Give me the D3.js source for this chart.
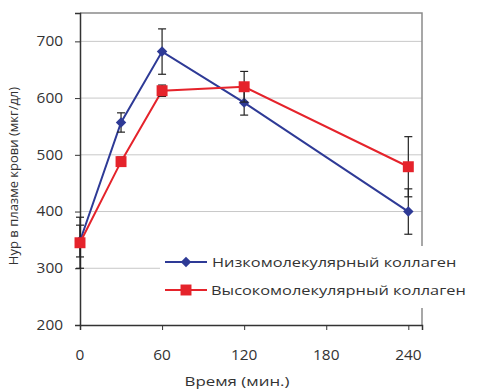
<!DOCTYPE html>
<html><head><meta charset="utf-8">
<script src="https://cdn.jsdelivr.net/npm/d3@7"></script>
<style>body{margin:0;background:#fff}text{font-family:"Open Sans",Arial,sans-serif}</style>
</head><body><svg id="c" width="477" height="389"></svg>
<script>
const times = [0, 30, 60, 120, 240];
const lowMW = [348, 557, 682, 592, 400];
const lowErr = [28, 17, 40, 22, 40];
const highMW = [345, 488, 613, 620, 479];
const highErr = [45, 8, 10, 27, 53];
const xTicks = [0, 60, 120, 180, 240];
const yTicks = [200, 300, 400, 500, 600, 700];
const seriesNames = ["Низкомолекулярный коллаген", "Высокомолекулярный коллаген"];
const colors = ["#2e3a96", "#e5232b"];

const svg = d3.select("#c");
const L = 80, R = 422, T = 13, B = 325;
const x = d3.scaleLinear().domain([0, 250]).range([L, R]);
const y = d3.scaleLinear().domain([200, 750]).range([B, T]);

function sText(px, py, str, size, sx, anchor) {
  return svg.append("text").attr("transform", `translate(${px},${py}) scale(${sx},1)`)
    .attr("text-anchor", anchor || "start").attr("dy", "0.35em")
    .attr("font-size", size).attr("fill", "#333").text(str);
}

// gridlines
svg.append("g").selectAll("line").data(yTicks.filter(v => v > 200)).join("line")
  .attr("x1", L).attr("x2", R).attr("y1", d => y(d)).attr("y2", d => y(d))
  .attr("stroke", "#c8c8c8").attr("stroke-width", 1);

// frame top/right
svg.append("path").attr("d", `M${L},${T}H${R}V${B}`).attr("fill", "none").attr("stroke", "#8a8a8a").attr("stroke-width", 1.5);

// axes
const yAxis = svg.append("g").attr("transform", `translate(${L},0)`)
  .call(d3.axisLeft(y).tickValues(yTicks).tickSize(5).tickFormat(""));
const xAxis = svg.append("g").attr("transform", `translate(0,${B})`)
  .call(d3.axisBottom(x).tickValues(xTicks).tickSize(5).tickFormat(""));
[yAxis, xAxis].forEach(a => {
  a.select(".domain").attr("stroke", "#333").attr("stroke-width", 1.5);
  a.selectAll(".tick line").attr("stroke", "#333");
});
yTicks.forEach(v => sText(63, y(v), String(v), 14, 1.1, "end"));
xTicks.forEach(v => sText(x(v), 355, String(v), 14, 1.1, "middle"));

const series = [
  {vals: lowMW, err: lowErr, color: colors[0], shape: d3.symbolDiamond2, size: 70},
  {vals: highMW, err: highErr, color: colors[1], shape: d3.symbolSquare, size: 120}
];
const line = d3.line().x((d, i) => x(times[i])).y(d => y(d));

series.forEach(s => {
  const g = svg.append("g");
  g.append("path").attr("d", line(s.vals)).attr("fill", "none").attr("stroke", s.color).attr("stroke-width", 2);
  const eb = g.selectAll("g.eb").data(s.vals).join("g");
  eb.append("line").attr("x1", (d, i) => x(times[i])).attr("x2", (d, i) => x(times[i]))
    .attr("y1", (d, i) => y(d - s.err[i])).attr("y2", (d, i) => y(d + s.err[i]))
    .attr("stroke", "#222").attr("stroke-width", 1.2);
  [-1, 1].forEach(sg => {
    eb.append("line").attr("x1", (d, i) => x(times[i]) - 4).attr("x2", (d, i) => x(times[i]) + 4)
      .attr("y1", (d, i) => y(d + sg * s.err[i])).attr("y2", (d, i) => y(d + sg * s.err[i]))
      .attr("stroke", "#222").attr("stroke-width", 1.2);
  });
  g.selectAll("path.m").data(s.vals).join("path").attr("class", "m")
    .attr("d", d3.symbol().type(s.shape).size(s.size))
    .attr("transform", (d, i) => `translate(${x(times[i])},${y(d)})`)
    .attr("fill", s.color);
});

// legend
const lg = svg.append("g");
lg.append("rect").attr("x", 160).attr("y", 246).attr("width", 317).attr("height", 62).attr("fill", "#fff");
series.forEach((s, i) => {
  const yy = 262 + i * 28;
  lg.append("line").attr("x1", 165).attr("x2", 207).attr("y1", yy).attr("y2", yy).attr("stroke", s.color).attr("stroke-width", 2);
  lg.append("path").attr("d", d3.symbol().type(s.shape).size(s.size)()).attr("transform", `translate(186,${yy})`).attr("fill", s.color);
});
sText(212, 262, seriesNames[0], 13, 1.26);
sText(211, 290, seriesNames[1], 13, 1.26);

// axis titles
sText(237, 381, "Время (мин.)", 13, 1.3, "middle");
svg.append("text").attr("transform", `translate(13,176) rotate(-90)`).attr("dy", "0.35em").attr("text-anchor", "middle").attr("font-size", 13).attr("fill", "#333").text("Нур в плазме крови (мкг/дл)");
</script></body></html>
